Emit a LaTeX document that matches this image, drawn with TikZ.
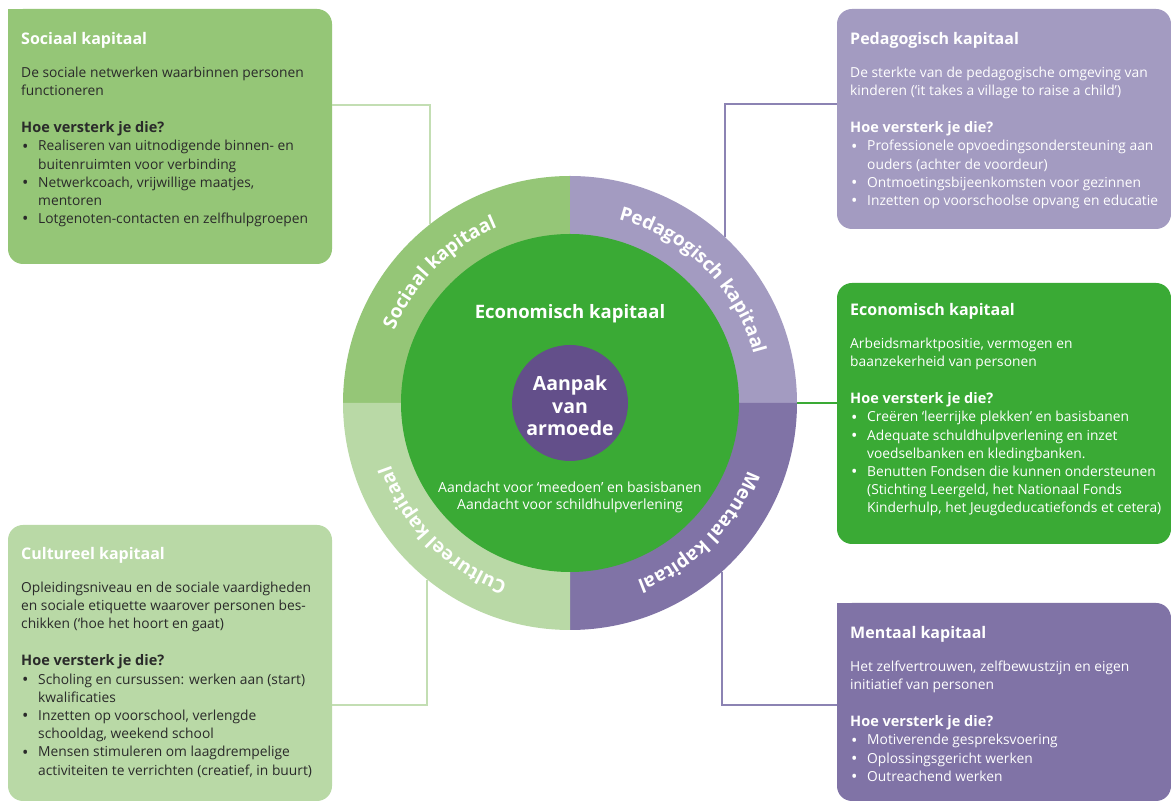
\documentclass[tikz,border=0pt]{standalone}
\usepackage{fontspec}
\setmainfont{Open Sans}
\usetikzlibrary{decorations.text}
\definecolor{soc}{HTML}{95C677}
\definecolor{ped}{HTML}{A39BC1}
\definecolor{eco}{HTML}{3AAA35}
\definecolor{cul}{HTML}{B9D9A6}
\definecolor{men}{HTML}{8073A6}
\definecolor{core}{HTML}{634F8A}
\definecolor{dark}{HTML}{2A2A2A}
\definecolor{socline}{HTML}{C3DEB3}
\definecolor{pedline}{HTML}{8C83B3}
\newcommand{\bitem}[1]{\par\hangindent=17pt\hangafter=1\noindent\hbox to 17pt{\hspace{1pt}\raisebox{-1.2pt}{\fontsize{17}{0}\selectfont\textbullet}\hss}#1}
\newcommand{\boxtext}[4]{\parbox[t]{400pt}{\raggedright\fontsize{13.8}{18.2}\selectfont
\leavevmode{\fontsize{16}{18}\selectfont\bfseries\color{white}#1}\par\color{#4}\vspace{14.8pt}%
#2\par\vspace{18.8pt}%
{\fontsize{14.5}{18.2}\selectfont\bfseries Hoe versterk je die?}#3\par}}
\newcommand{\ringfont}{\fontsize{19}{19}\selectfont\bfseries\color{white}}
\tikzset{
  infobox/.style={rounded corners=15, inner sep=0, minimum width=334},
  boxtxt/.style={anchor=base west, inner sep=0},
  conn/.style={line width=1.5pt},
  ringtext/.style={decorate, decoration={text along path, text align=center, text={|\ringfont|#1}}}
}
\begin{document}
\begin{tikzpicture}[x=1pt,y=1pt]
\useasboundingbox (0,0) rectangle (1171,803);
\fill[white] (0,0) rectangle (1171,803);
% boxes
\node[infobox, fill=soc, minimum width=324, minimum height=255] (soc) at (170,666.5) {};
\fill[soc] (8,794) rectangle (30,772);
\node[infobox, fill=ped, minimum height=220] (ped) at (1004,684) {};
\node[infobox, fill=eco, minimum height=261] (eco) at (1004,389.5) {};
\node[infobox, fill=cul, minimum width=324, minimum height=276] (cul) at (170,140) {};
\node[infobox, fill=men, minimum height=198] (men) at (1004,101) {};
\fill[men] (837,200) rectangle (860,178);
% box texts
\node[boxtxt] (soctxt) at (21,758.5) {\boxtext{Sociaal kapitaal}{De sociale netwerken waarbinnen personen\newline functioneren}{%
\bitem{Realiseren van uitnodigende binnen- en\newline buitenruimten voor verbinding}%
\bitem{Netwerkcoach, vrijwillige maatjes,\newline mentoren}%
\bitem{Lotgenoten-contacten en zelfhulpgroepen}}{dark}};
\node[boxtxt] (pedtxt) at (850,758.5) {\boxtext{Pedagogisch kapitaal}{De sterkte van de pedagogische omgeving van\newline kinderen (‘it takes a village to raise a child’)}{%
\bitem{Professionele opvoedingsondersteuning aan\newline ouders (achter de voordeur)}%
\bitem{Ontmoetingsbijeenkomsten voor gezinnen}%
\bitem{Inzetten op voorschoolse opvang en educatie}}{white}};
\node[boxtxt] (ecotxt) at (850,487.5) {\boxtext{Economisch kapitaal}{Arbeidsmarktpositie, vermogen en\newline baanzekerheid van personen}{%
\bitem{Creëren ‘leerrijke plekken’ en basisbanen}%
\bitem{Adequate schuldhulpverlening en inzet\newline voedselbanken en kledingbanken.}%
\bitem{Benutten Fondsen die kunnen ondersteunen\newline (Stichting Leergeld, het Nationaal Fonds\newline Kinderhulp, het Jeugdeducatiefonds et cetera)}}{white}};
\node[boxtxt] (cultxt) at (21,243.5) {\boxtext{Cultureel kapitaal}{Opleidingsniveau en de sociale vaardigheden\newline en sociale etiquette waarover personen bes-\newline chikken (‘hoe het hoort en gaat)}{%
\bitem{Scholing en cursussen: werken aan (start)\newline kwalificaties}%
\bitem{Inzetten op voorschool, verlengde\newline schooldag, weekend school}%
\bitem{Mensen stimuleren om laagdrempelige\newline activiteiten te verrichten (creatief, in buurt)}}{dark}};
\node[boxtxt] (mentxt) at (850,164.5) {\boxtext{Mentaal kapitaal}{Het zelfvertrouwen, zelfbewustzijn en eigen\newline initiatief van personen}{%
\bitem{Motiverende gespreksvoering}%
\bitem{Oplossingsgericht werken}%
\bitem{Outreachend werken}}{white}};
% ring
\node[circle, inner sep=0, minimum size=454] (ring) at (570,400) {};
\draw[conn, socline] (ring.128.4) |- (soc.east |- 0,698);
\draw[conn, pedline] (ring.47.6) |- (ped.west |- 0,699);
\draw[conn, eco] (ring.east) -- (eco.west |- ring.east);
\draw[conn, socline] (ring.231.6) |- (cul.east |- 0,98);
\draw[conn, pedline] (ring.312.4) |- (men.west |- 0,98);
\fill[soc] (570,400) -- (343,400) arc[start angle=180, end angle=90, radius=227] -- cycle;
\fill[ped] (570,400) -- (570,627) arc[start angle=90, end angle=0, radius=227] -- cycle;
\fill[men] (570,400) -- (797,400) arc[start angle=0, end angle=-90, radius=227] -- cycle;
\fill[cul] (570,400) -- (570,173) arc[start angle=-90, end angle=-180, radius=227] -- cycle;
\path[ringtext=Sociaal kapitaal] (570,400) ++(185:190) arc[start angle=185, end angle=85, radius=190];
\path[ringtext=Pedagogisch kapitaal] (570,400) ++(95:190) arc[start angle=95, end angle=-5, radius=190];
\path[ringtext=Mentaal kapitaal] (570,400) ++(5:190) arc[start angle=5, end angle=-95, radius=190];
\path[ringtext=Cultureel kapitaal] (570,400) ++(-85:190) arc[start angle=-85, end angle=-185, radius=190];
\node[circle, fill=eco, inner sep=0, minimum size=338] (econ) at (570,400) {};
\node[circle, fill=core, inner sep=0, minimum size=116] (core) at (570,400) {};
\node[text=white, align=center, font=\fontsize{19.5}{22.5}\selectfont\bfseries] (coretxt) at (570,397) {Aanpak\\van\\armoede};
\node[text=white, font=\fontsize{18.5}{20}\selectfont\bfseries] (econtitle) at (570,489.5) {Economisch kapitaal};
\node[text=white, align=center, font=\fontsize{14}{17.5}\selectfont] (econnote) at (570,305.5) {Aandacht voor ‘meedoen’ en basisbanen\\Aandacht voor schildhulpverlening};
\end{tikzpicture}
\end{document}
